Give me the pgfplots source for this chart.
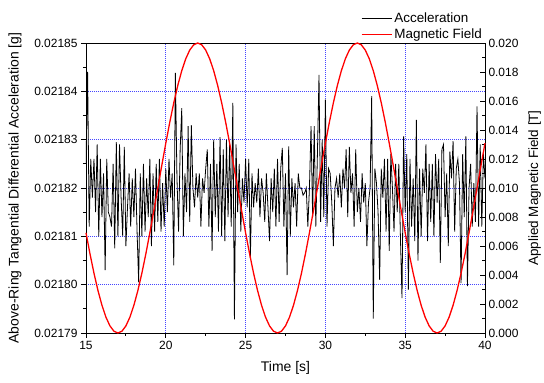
\documentclass[border=0pt]{standalone}
\usepackage{pgfplots}
\usepackage{pgfplotstable}
\pgfplotsset{compat=1.18}
\usepackage{fontspec}
\setmainfont{Liberation Sans}

\pgfplotstableread{
x y
15.0 0.021825
15.1 0.021844
15.2 0.021812
15.3 0.021826
15.4 0.021818
15.5 0.021826
15.6 0.021815
15.7 0.021829
15.8 0.021810
15.9 0.021826
16.0 0.021814
16.1 0.021823
16.2 0.021803
16.3 0.021826
16.4 0.021815
16.5 0.021814
16.6 0.021812
16.7 0.021825
16.8 0.0218075
16.9 0.0218295
17.0 0.021810
17.1 0.021829
17.2 0.021818
17.3 0.021810
17.4 0.0218285
17.5 0.021808
17.6 0.021816
17.7 0.021823
17.8 0.021812
17.9 0.021822
18.0 0.021814
18.1 0.021824
18.2 0.021811
18.3 0.0218005
18.4 0.021823
18.5 0.021810
18.6 0.021825
18.7 0.021811
18.8 0.021822
18.9 0.021814
19.0 0.021826
19.1 0.021808
19.2 0.021823
19.3 0.021811
19.4 0.021825
19.5 0.021813
19.6 0.021826
19.7 0.021811
19.8 0.021821
19.9 0.021812
20.0 0.021824
20.1 0.021815
20.2 0.021826
20.3 0.021818
20.4 0.021823
20.5 0.021804
20.6 0.0218438
20.7 0.021822
20.8 0.021811
20.9 0.021828
21.0 0.0218365
21.1 0.021810
21.2 0.021823
21.3 0.021815
21.4 0.0218328
21.5 0.021813
21.6 0.021833
21.7 0.021820
21.8 0.021816
21.9 0.021823
22.0 0.021818
22.1 0.021823
22.2 0.021812
22.3 0.021822
22.4 0.021819
22.5 0.021824
22.6 0.021828
22.7 0.021812
22.8 0.021825
22.9 0.021807
23.0 0.021830
23.1 0.021814
23.2 0.021825
23.3 0.021811
23.4 0.0218305
23.5 0.021810
23.6 0.021828
23.7 0.021809
23.8 0.021830
23.9 0.021814
24.0 0.021829
24.1 0.021812
24.2 0.0218376
24.3 0.0217928
24.4 0.021829
24.5 0.021815
24.6 0.021825
24.7 0.021811
24.8 0.021822
24.9 0.021817
25.0 0.021826
25.1 0.021816
25.2 0.021826
25.3 0.0218055
25.4 0.021823
25.5 0.021816
25.6 0.021821
25.7 0.021817
25.8 0.021824
25.9 0.021814
26.0 0.021822
26.1 0.021819
26.2 0.021813
26.3 0.021823
26.4 0.021816
26.5 0.021809
26.6 0.021822
26.7 0.021815
26.8 0.021824
26.9 0.021812
27.0 0.021826
27.1 0.021813
27.2 0.021824
27.3 0.0218283
27.4 0.021812
27.5 0.021823
27.6 0.021802
27.7 0.0218286
27.8 0.021810
27.9 0.021822
28.0 0.021816
28.1 0.021821
28.2 0.021812
28.3 0.021823
28.4 0.021820
28.5 0.021820
28.6 0.0218185
28.7 0.021819
28.8 0.021820
28.9 0.021812
29.0 0.021820
29.1 0.0218328
29.2 0.021814
29.3 0.0218328
29.4 0.021812
29.5 0.021827
29.6 0.0218434
29.7 0.021813
29.8 0.021830
29.9 0.021814
30.0 0.0218383
30.1 0.021812
30.2 0.021824
30.3 0.021823
30.4 0.021817
30.5 0.021808
30.6 0.021820
30.7 0.021822
30.8 0.021818
30.9 0.021823
31.0 0.021816
31.1 0.021824
31.2 0.021820
31.3 0.021828
31.4 0.021814
31.5 0.0218285
31.6 0.021819
31.7 0.021823
31.8 0.021812
31.9 0.021828
32.0 0.021815
32.1 0.021820
32.2 0.021813
32.3 0.021823
32.4 0.021817
32.5 0.021821
32.6 0.021808
32.7 0.021817
32.8 0.021820
32.9 0.021839
33.0 0.021793
33.1 0.021824
33.2 0.021821
33.3 0.021815
33.4 0.021801
33.5 0.021824
33.6 0.021818
33.7 0.021826
33.8 0.021811
33.9 0.021826
34.0 0.021807
34.1 0.021827
34.2 0.021820
34.3 0.021811
34.4 0.021825
34.5 0.021815
34.6 0.021825
34.7 0.021810
34.8 0.0217972
34.9 0.0218307
35.0 0.021815
35.1 0.021827
35.2 0.021799
35.3 0.021826
35.4 0.021812
35.5 0.021822
35.6 0.021809
35.7 0.0218341
35.8 0.021805
35.9 0.021824
36.0 0.021810
36.1 0.021824
36.2 0.021819
36.3 0.021829
36.4 0.021809
36.5 0.021825
36.6 0.021813
36.7 0.021825
36.8 0.021810
36.9 0.021827
37.0 0.021817
37.1 0.021826
37.2 0.0218045
37.3 0.021828
37.4 0.021829
37.5 0.021814
37.6 0.021823
37.7 0.021808
37.8 0.0218275
37.9 0.021822
38.0 0.0218297
38.1 0.021811
38.2 0.021824
38.3 0.021826
38.4 0.021821
38.5 0.0218003
38.6 0.021827
38.7 0.021814
38.8 0.0218307
38.9 0.0217997
39.0 0.021820
39.1 0.021825
39.2 0.021812
39.3 0.021821
39.4 0.021813
39.5 0.0218369
39.6 0.021812
39.7 0.021829
39.8 0.021812
39.9 0.021827
40.0 0.021822
}\accdata

\pgfplotstableread{
x y
15.00 0.006910
15.25 0.005460
15.50 0.004122
15.75 0.002929
16.00 0.001910
16.25 0.001090
16.50 0.000489
16.75 0.000123
17.00 0.000000
17.25 0.000123
17.50 0.000489
17.75 0.001090
18.00 0.001910
18.25 0.002929
18.50 0.004122
18.75 0.005460
19.00 0.006910
19.25 0.008436
19.50 0.010000
19.75 0.011564
20.00 0.013090
20.25 0.014540
20.50 0.015878
20.75 0.017071
21.00 0.018090
21.25 0.018910
21.50 0.019511
21.75 0.019877
22.00 0.020000
22.25 0.019877
22.50 0.019511
22.75 0.018910
23.00 0.018090
23.25 0.017071
23.50 0.015878
23.75 0.014540
24.00 0.013090
24.25 0.011564
24.50 0.010000
24.75 0.008436
25.00 0.006910
25.25 0.005460
25.50 0.004122
25.75 0.002929
26.00 0.001910
26.25 0.001090
26.50 0.000489
26.75 0.000123
27.00 0.000000
27.25 0.000123
27.50 0.000489
27.75 0.001090
28.00 0.001910
28.25 0.002929
28.50 0.004122
28.75 0.005460
29.00 0.006910
29.25 0.008436
29.50 0.010000
29.75 0.011564
30.00 0.013090
30.25 0.014540
30.50 0.015878
30.75 0.017071
31.00 0.018090
31.25 0.018910
31.50 0.019511
31.75 0.019877
32.00 0.020000
32.25 0.019877
32.50 0.019511
32.75 0.018910
33.00 0.018090
33.25 0.017071
33.50 0.015878
33.75 0.014540
34.00 0.013090
34.25 0.011564
34.50 0.010000
34.75 0.008436
35.00 0.006910
35.25 0.005460
35.50 0.004122
35.75 0.002929
36.00 0.001910
36.25 0.001090
36.50 0.000489
36.75 0.000123
37.00 0.000000
37.25 0.000123
37.50 0.000489
37.75 0.001090
38.00 0.001910
38.25 0.002929
38.50 0.004122
38.75 0.005460
39.00 0.006910
39.25 0.008436
39.50 0.010000
39.75 0.011564
40.00 0.013090
}\fielddata

\begin{document}
\begin{tikzpicture}
\useasboundingbox (-86bp,-50bp) rectangle (458bp,333bp);
\begin{axis}[
  scale only axis, width=399bp, height=290bp,
  xmin=15, xmax=40, ymin=0.02179, ymax=0.02185,
  xtick={15,20,25,30,35,40}, minor x tick num=1,
  ytick={0.02179,0.02180,0.02181,0.02182,0.02183,0.02184,0.02185},
  minor y tick num=1,
  scaled y ticks=false,
  yticklabel style={/pgf/number format/.cd, fixed, fixed zerofill, precision=5},
  /pgf/number format/assume math mode=true,
  tick pos=left, tick align=outside,
  major tick length=5bp, minor tick length=3bp,
  tick style={black, line width=0.8pt},
  axis line style={black, line width=0.9pt},
  grid=major,
  major grid style={draw={rgb,255:red,70;green,70;blue,255}, dash pattern=on 1bp off 1bp, line width=0.8bp},
  tick label style={font=\fontsize{12}{14}\selectfont},
  label style={font=\fontsize{14}{16}\selectfont},
  xlabel={Time [s]},
  xlabel shift=5bp,
  ylabel={Above-Ring Tangential Differential Acceleration [g]},
  ylabel shift=6bp,
]
\addplot[black, line width=0.8pt] table[x=x, y=y] {\accdata};
\end{axis}
\begin{axis}[
  scale only axis, width=399bp, height=290bp,
  xmin=15, xmax=40, ymin=0, ymax=0.02,
  axis x line=none, axis y line*=right,
  ytick={0,0.002,0.004,0.006,0.008,0.010,0.012,0.014,0.016,0.018,0.020},
  minor y tick num=1,
  scaled y ticks=false,
  yticklabel style={/pgf/number format/.cd, fixed, fixed zerofill, precision=3},
  /pgf/number format/assume math mode=true,
  tick align=inside,
  major tick length=5bp, minor tick length=3bp,
  tick style={black, line width=0.8pt},
  axis line style={black, line width=0.9pt},
  tick label style={font=\fontsize{12}{14}\selectfont},
  label style={font=\fontsize{13.5}{16}\selectfont},
  ylabel={Applied Magnetic Field [T]},
  ylabel shift=3bp,
  clip=false,
  legend image code/.code={\draw[#1] (0bp,0bp) -- (30bp,0bp);},
  legend style={at={(1,1)}, anchor=south east, draw=none, fill=none,
    font=\fontsize{13.5}{16}\selectfont, row sep=1bp, inner sep=1bp},
  legend cell align=left,
]
\addlegendimage{black, line width=0.6pt}
\addlegendentry{Acceleration}
\addplot[red, line width=1.3pt] table[x=x, y=y] {\fielddata};
\addlegendentry{Magnetic Field}
\end{axis}
\end{tikzpicture}
\end{document}
